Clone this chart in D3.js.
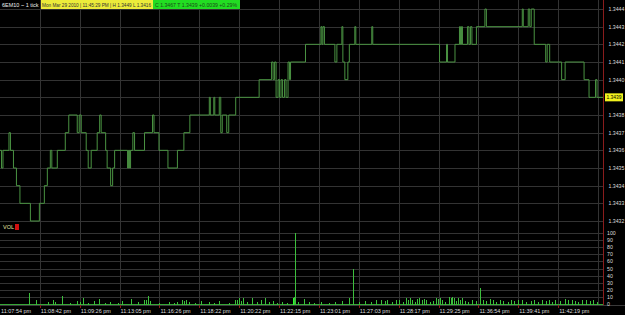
<!DOCTYPE html>
<html><head><meta charset="utf-8">
<script src="https://cdn.jsdelivr.net/npm/d3@7"></script>
<style>html,body{margin:0;padding:0;background:#000;overflow:hidden}svg{display:block}</style>
</head><body>
<script>
// ---- data ----
const symbolLabel = "6EM10 ~ 1 tick";
const infoYellow = "Mon Mar 29 2010 | 11:45:29 PM | H 1.3449  L 1.3416";
const infoGreen = "C 1.3467  T 1.3439  +0.0039  +0.29%";
const lastPrice = 1.3439;
const timeTicks = [0,40,80,120,160,200,240,280,320,360,400,440,480,520,560];
const timeLabels = ["11:07:54 pm","11:08:42 pm","11:09:26 pm","11:13:05 pm","11:16:26 pm","11:18:22 pm","11:20:22 pm","11:22:15 pm","11:23:01 pm","11:27:03 pm","11:28:17 pm","11:29:25 pm","11:36:54 pm","11:39:41 pm","11:42:19 pm"];
const priceTicks = [1.3432,1.3433,1.3434,1.3435,1.3436,1.3437,1.3438,1.3439,1.3440,1.3441,1.3442,1.3443,1.3444];
const volTicks = [0,10,20,30,40,50,60,70,80,90,100];
// price change points: tick index and new price
const chgTick = [0,1.5,3,9,10.5,13.5,16.5,20,30.5,39.5,44.5,47.5,50.5,52,57.5,65.5,69,77.5,79.5,81.5,86.5,88.5,91.5,97.5,100,101.5,106,107.5,111,113,115,128,129,130,131,133.3,135,145,153,154.5,159.5,168.5,178,184.5,190.5,210,211,214.5,215.5,220,221.5,223,227.5,229.5,236.5,260,272.5,274,275.5,277,279,280.5,282,283.5,285.5,287,289,290.5,291.5,306.5,322,323,324,325.5,336,338,343,344,346,349,350.5,356,357,373,374,441,448,449,456.5,461,462,463,464,469,470.5,472,473.5,478,486.5,488,524,525,530,531.5,533,536,547.5,549,551.5,563.5,567,586,591,597.5,599,605];
const chgPrice = [1.3436,1.3435,1.3436,1.3437,1.3436,1.3435,1.3434,1.3433,1.3432,1.3433,1.3434,1.3435,1.3436,1.3435,1.3436,1.3437,1.3438,1.3437,1.3438,1.3437,1.3436,1.3435,1.3436,1.3437,1.3438,1.3437,1.3436,1.3435,1.3434,1.3435,1.3436,1.3435,1.3436,1.3435,1.3436,1.3437,1.3436,1.3437,1.3438,1.3437,1.3436,1.3435,1.3436,1.3437,1.3438,1.3439,1.3438,1.3439,1.3438,1.3439,1.3437,1.3438,1.3437,1.3438,1.3439,1.3440,1.3441,1.3440,1.3441,1.3439,1.3440,1.3439,1.3440,1.3439,1.3440,1.3439,1.3441,1.3440,1.3441,1.3442,1.3443,1.3442,1.3443,1.3442,1.3441,1.3442,1.3443,1.3441,1.3440,1.3441,1.3442,1.3443,1.3442,1.3443,1.3442,1.3441,1.3442,1.3441,1.3442,1.3443,1.3442,1.3443,1.3442,1.3443,1.3442,1.3443,1.3442,1.3443,1.3444,1.3443,1.3444,1.3443,1.3444,1.3443,1.3444,1.3442,1.3441,1.3442,1.3441,1.3440,1.3441,1.3440,1.3439,1.3440,1.3439,1.3439];
// volume bars: tick index and volume
const volTick = [29,35.7,48,53,55,62,70,77,80,83,88,94,99,105,110,118,122,131,138,144,146,148,150,160,170,175,178,183,185,187,190,196,202,210,215,220,230,236,238,240,242,244,248,253,258,262,266,270,274,278,283,288,294,295,296,299,305,310,315,322,330,336,343,350,354,360,366,372,377,382,386,388,393,397,400,404,407,409,411,413,416,418,420,423,425,427,431,434,437,439,441,443,446,450,452,454,456,458,460,462,464,467,470,474,478,482,485,488,492,495,498,502,505,510,513,516,520,524,528,533,536,540,544,548,551,554,557,562,567,570,574,577,580,584,588,592,595,599];
const volValue = [15,5,3,6,3,11,2,4,3,9,2,4,7,2,3,2,4,7,3,5,6,11,4,2,3,2,3,5,4,6,3,2,4,3,2,4,2,5,6,8,4,9,3,8,3,6,9,3,4,2,3,2,8,10,100,3,7,3,2,3,2,3,4,8,50,3,4,3,5,6,4,6,3,5,6,3,8,6,8,5,3,7,8,6,7,5,3,4,9,7,9,6,3,10,9,10,8,4,9,6,9,4,3,5,4,22,5,4,7,5,3,6,4,3,6,4,5,6,3,4,6,3,5,4,6,3,5,4,7,5,6,4,3,5,6,4,5,3];

// ---- chart ----
const W = 625, H = 315;
const svg = d3.select("body").append("svg").attr("width", W).attr("height", H)
  .style("font-family", "'Liberation Sans', Arial, sans-serif");
svg.append("rect").attr("width", W).attr("height", H).attr("fill", "#000");

const x = d3.scaleLinear().domain([0, 605]).range([0, 603]);
const yP = d3.scaleLinear().domain([1.3432, 1.3444]).range([221, 9]);
const yV = d3.scaleLinear().domain([0, 100]).range([304, 233]);
const gridC = "#333";

// horizontal grids
svg.append("g").selectAll("line").data(priceTicks).join("line")
  .attr("x1", 0).attr("x2", 603).attr("y1", d => Math.round(yP(d)) + 0.5).attr("y2", d => Math.round(yP(d)) + 0.5)
  .attr("stroke", gridC);
svg.append("g").selectAll("line").data(volTicks).join("line")
  .attr("x1", 0).attr("x2", 603).attr("y1", d => Math.round(yV(d)) + 0.5).attr("y2", d => Math.round(yV(d)) + 0.5)
  .attr("stroke", gridC);
// vertical grids
const vg = d3.range(40, 601, 40);
svg.append("g").selectAll("line").data(vg).join("line")
  .attr("x1", d => Math.round(x(d)) + 0.5).attr("x2", d => Math.round(x(d)) + 0.5)
  .attr("y1", 0).attr("y2", 305).attr("stroke", gridC);

// price step line
const pts = chgTick.map((t, i) => [t, chgPrice[i]]);
const line = d3.line().x(d => x(d[0])).y(d => yP(d[1])).curve(d3.curveStepAfter);
svg.append("path").datum(pts).attr("d", line).attr("fill", "none")
  .attr("stroke", "#4a9342").attr("stroke-width", 1);

// volume
svg.append("line").attr("x1", 0).attr("x2", 603).attr("y1", yV(0) + 0.5).attr("y2", yV(0) + 0.5)
  .attr("stroke", "#36a636").attr("stroke-width", 1);
svg.append("g").attr("shape-rendering", "crispEdges").selectAll("rect").data(volTick.map((t, i) => [t, volValue[i]])).join("rect")
  .attr("x", d => Math.round(x(d[0])))
  .attr("width", d => d[0] === 294 ? 3 : 1)
  .attr("y", d => Math.round(yV(d[1])))
  .attr("height", d => Math.round(yV(0)) - Math.round(yV(d[1])) + 1)
  .attr("fill", d => (d[0] === 294) ? "#2cff2c" : "#3cbf3c");

// right axis
svg.append("line").attr("x1", 603.5).attr("x2", 603.5).attr("y1", 0).attr("y2", 305)
  .attr("stroke", "#8a1c1c");
svg.append("line").attr("x1", 0).attr("x2", 625).attr("y1", 305.5).attr("y2", 305.5)
  .attr("stroke", "#3a3a3a");

svg.append("g").selectAll("text").data(priceTicks.filter(d => d !== lastPrice)).join("text")
  .attr("x", 608.5).attr("y", d => yP(d) + 2).attr("font-size", 5.2).attr("fill", "#ddd")
  .text(d => d.toFixed(4));
// last price marker
svg.append("rect").attr("x", 605).attr("y", yP(lastPrice) - 4).attr("width", 18).attr("height", 8).attr("fill", "#f2f21e");
svg.append("text").attr("x", 606.5).attr("y", yP(lastPrice) + 2).attr("font-size", 5.2).attr("fill", "#000")
  .attr("textLength", 15).attr("lengthAdjust", "spacingAndGlyphs").text(lastPrice.toFixed(4));

svg.append("g").selectAll("text").data(volTicks).join("text")
  .attr("x", 607).attr("y", d => yV(d) + 2).attr("font-size", 5.2).attr("fill", "#ddd")
  .text(d => d);

// time axis
svg.append("g").selectAll("line").data(timeTicks.slice(1)).join("line")
  .attr("x1", d => Math.round(x(d)) + 0.5).attr("x2", d => Math.round(x(d)) + 0.5)
  .attr("y1", 305).attr("y2", 308).attr("stroke", "#8a1c1c");
svg.append("g").selectAll("text").data(timeTicks).join("text")
  .attr("x", (d, i) => x(d) + 1).attr("y", 313).attr("font-size", 5.5).attr("fill", "#ddd")
  .text((d, i) => timeLabels[i]);

// header
svg.append("text").attr("x", 2).attr("y", 7).attr("font-size", 5.5).attr("fill", "#eee").text(symbolLabel);
svg.append("rect").attr("x", 41).attr("y", 0).attr("width", 112).attr("height", 9).attr("fill", "#ecec3a");
svg.append("text").attr("x", 42).attr("y", 6.8).attr("font-size", 5.2).attr("fill", "#333")
  .attr("textLength", 109).attr("lengthAdjust", "spacingAndGlyphs").text(infoYellow);
svg.append("rect").attr("x", 153).attr("y", 0).attr("width", 87).attr("height", 9).attr("fill", "#22dd22");
svg.append("text").attr("x", 155).attr("y", 6.8).attr("font-size", 5.2).attr("fill", "#1a4a1a")
  .attr("textLength", 82).attr("lengthAdjust", "spacingAndGlyphs").text(infoGreen);

// VOL label
svg.append("text").attr("x", 3).attr("y", 229).attr("font-size", 5.5).attr("fill", "#e6e6a0").text("VOL");
svg.append("rect").attr("x", 15).attr("y", 224).attr("width", 4).attr("height", 6).attr("fill", "#d01010");
</script>
</body></html>
